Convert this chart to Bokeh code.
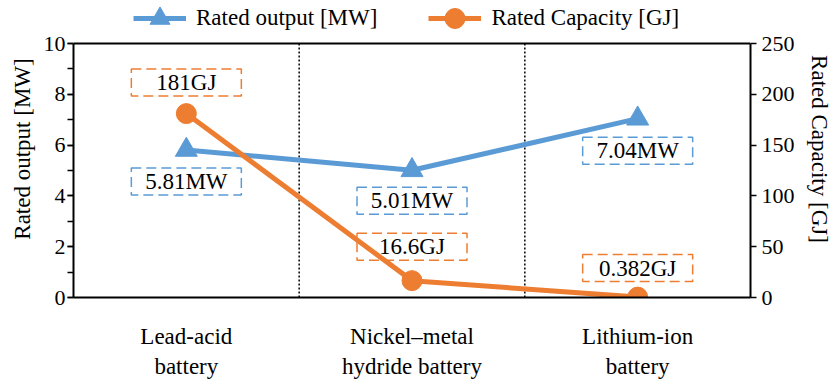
from bokeh.plotting import figure
from bokeh.models import (Range1d, FactorRange, LinearAxis, SingleIntervalTicker, Span,
                          Legend, LegendItem)
from bokeh.core.properties import value
from bokeh.embed import file_html
from bokeh.resources import INLINE

# ---------------- data ----------------
categories = ["Lead-acid\nbattery", "Nickel\u2013metal\nhydride battery", "Lithium-ion\nbattery"]
rated_output_mw = [5.81, 5.01, 7.04]
rated_capacity_gj = [181, 16.6, 0.382]
output_labels = [f"{v:g}MW" for v in rated_output_mw]
capacity_labels = [f"{v:g}GJ" for v in rated_capacity_gj]
left_range = (0, 10)
right_range = (0, 250)

# ---------------- style ----------------
FONT = "'Liberation Serif'"
FONT_T = "'Liberation Serif', 'Times New Roman', serif"
BLUE = "#5B9BD5"
ORANGE = "#ED7D31"
W, H = 835, 382
BL, BR, BB = 73, 85, 85
TOP_GAP = 43                      # px of legend area above the plotting box
FH = H - BB                       # frame reaches the top edge (legend lives inside it)
DATA_H = FH - TOP_GAP
ppu_left = DATA_H / (left_range[1] - left_range[0])
ppu_right = DATA_H / (right_range[1] - right_range[0])
left_top = left_range[0] + FH / ppu_left
right_top = right_range[0] + FH / ppu_right
out_box_off = [31.5, 30.5, 32]   # px below point
cap_box_off = [31, 34, 29]       # px above point

p = figure(width=W, height=H, output_backend="svg", toolbar_location=None,
           x_range=FactorRange(factors=categories, range_padding=0),
           y_range=Range1d(left_range[0], left_top),
           min_border_left=BL, min_border_right=BR, min_border_top=0, min_border_bottom=BB)
p.extra_y_ranges = {"cap": Range1d(right_range[0], right_top)}
p.outline_line_color = None
p.xgrid.visible = False
p.ygrid.visible = False

# left axis
ya = p.yaxis[0]
ya.bounds = left_range
ya.ticker = SingleIntervalTicker(interval=2, num_minor_ticks=2)
ya.axis_line_width = 2
ya.major_tick_in = 0
ya.major_tick_out = 6
ya.minor_tick_in = 0
ya.minor_tick_out = 6
ya.major_tick_line_width = 1.5
ya.minor_tick_line_width = 1.5
ya.major_label_text_font = FONT_T
ya.major_label_text_font_size = "22px"
ya.major_label_text_color = "black"
ya.major_label_standoff = 2
ya.axis_label = "Rated output [MW]"
ya.axis_label_text_font = FONT
ya.axis_label_text_font_size = "23px"
ya.axis_label_text_font_style = "normal"
ya.axis_label_text_color = "black"
ya.axis_label_standoff = 6

# right axis
ra = LinearAxis(y_range_name="cap", bounds=right_range,
                ticker=SingleIntervalTicker(interval=50, num_minor_ticks=0))
ra.axis_line_width = 2
ra.major_tick_in = 0
ra.major_tick_out = 6
ra.major_tick_line_width = 1.5
ra.minor_tick_line_color = None
ra.major_label_text_font = FONT_T
ra.major_label_text_font_size = "22px"
ra.major_label_text_color = "black"
ra.major_label_standoff = 5
ra.axis_label = "Rated Capacity [GJ]"
ra.axis_label_text_font = FONT
ra.axis_label_text_font_size = "23px"
ra.axis_label_text_font_style = "normal"
ra.axis_label_text_color = "black"
ra.axis_label_standoff = 9
p.add_layout(ra, "right")

# bottom axis
xa = p.xaxis[0]
xa.axis_line_width = 2
xa.major_tick_line_color = None
xa.minor_tick_line_color = None
xa.major_label_text_font = FONT_T
xa.major_label_text_font_size = "23px"
xa.major_label_text_color = "black"
xa.major_label_standoff = 20
xa.major_label_orientation = "horizontal"

# top border of the plotting box
p.add_layout(Span(location=left_range[1], dimension="width", line_color="black", line_width=2))

# dotted separators between categories
seps = list(range(1, len(categories)))
p.segment(x0=seps, y0=[left_range[0]] * len(seps), x1=seps, y1=[left_range[1]] * len(seps),
          line_color="black", line_dash="2 2", line_width=1.5)

# label boxes
out_box_y = [v - o / ppu_left for v, o in zip(rated_output_mw, out_box_off)]
cap_box_y = [v + o / ppu_right for v, o in zip(rated_capacity_gj, cap_box_off)]
p.rect(x=categories, y=out_box_y, width=110, height=27, width_units="screen",
       height_units="screen", fill_color=None, line_color=BLUE, line_width=1.5,
       line_dash="10 5")
p.rect(x=categories, y=cap_box_y, width=110, height=27, width_units="screen",
       height_units="screen", fill_color=None, line_color=ORANGE, line_width=1.5,
       line_dash="10 5", y_range_name="cap")
p.text(x=categories, y=out_box_y, text=output_labels, text_font=value(FONT_T),
       text_font_size="23px", text_align="center", text_baseline="middle", text_color="black")
p.text(x=categories, y=cap_box_y, text=capacity_labels, text_font=value(FONT_T),
       text_font_size="23px", text_align="center", text_baseline="middle", text_color="black",
       y_range_name="cap")

# series
bl = p.line(categories, rated_output_mw, line_color=BLUE, line_width=5)
bs = p.scatter(categories, rated_output_mw, marker="triangle", size=22,
               fill_color=BLUE, line_color=BLUE)
ol = p.line(categories, rated_capacity_gj, line_color=ORANGE, line_width=5, y_range_name="cap")
osc = p.scatter(categories, rated_capacity_gj, marker="circle", size=20,
                fill_color=ORANGE, line_color=ORANGE, y_range_name="cap")

# legend (inside the frame, in the band above the plotting box)
GH = 50
LEG_CY = 18
legend = Legend(items=[LegendItem(label="Rated output [MW]", renderers=[bl, bs]),
                       LegendItem(label="Rated Capacity [GJ]", renderers=[ol, osc])],
                location=(60, FH - LEG_CY - GH / 2), orientation="horizontal",
                padding=0, margin=0, spacing=51, glyph_width=53, glyph_height=GH,
                label_standoff=10, border_line_color=None, background_fill_alpha=0,
                label_text_font=FONT, label_text_font_size="23px", label_text_color="black",
                label_height=GH)
p.add_layout(legend)

open("out.html", "w").write(file_html(p, INLINE))
